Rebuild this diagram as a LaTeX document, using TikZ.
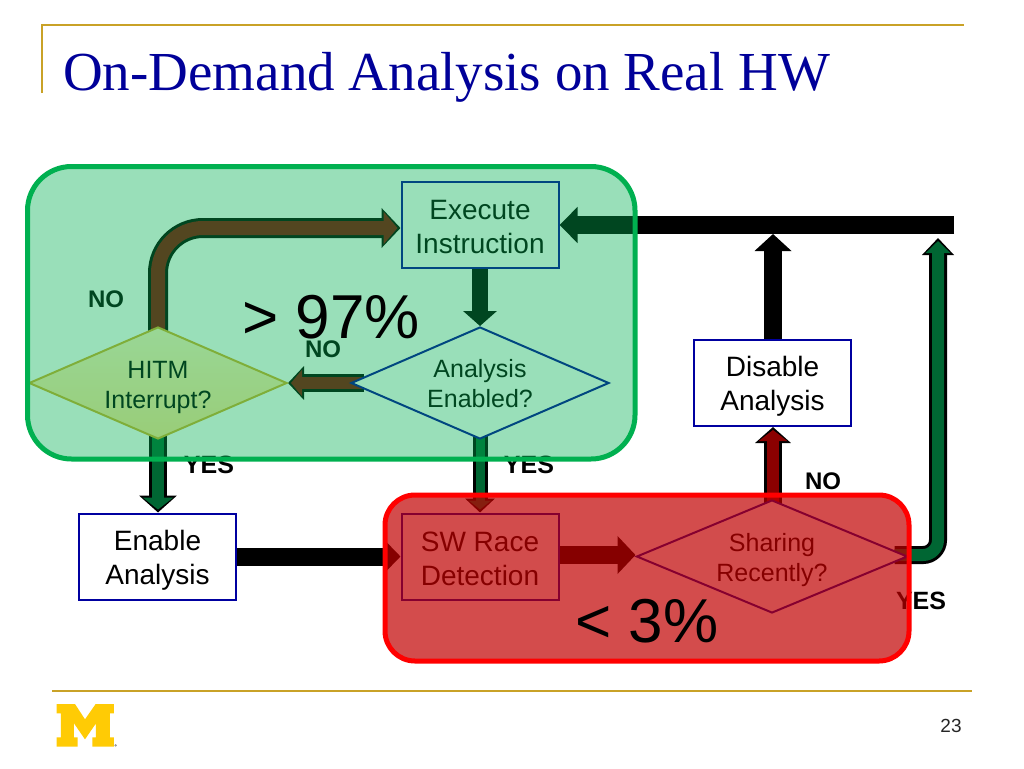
\documentclass[tikz,border=0pt]{standalone}
\usepackage{fontspec}
\setmainfont{Liberation Sans}
\newfontfamily\titlefont{Liberation Serif}
\usetikzlibrary{arrows.meta,shapes.geometric}
\pgfdeclarelayer{flows}
\pgfsetlayers{flows,main}
\definecolor{gold}{HTML}{C9A227}
\definecolor{navyb}{HTML}{0000A0}
\definecolor{darkred}{HTML}{8B0000}
\definecolor{flowgreen}{HTML}{006633}
\definecolor{ovgreen}{HTML}{00B050}
\definecolor{ovred}{HTML}{C00000}
\definecolor{mblue}{HTML}{000099}
\definecolor{myellow}{HTML}{FFCB05}
\definecolor{hitmtop}{RGB}{255,241,197}
\definecolor{hitmbot}{RGB}{255,225,147}
\definecolor{hitmline}{RGB}{212,173,43}
\def\blackname{black}
\newcommand{\flowarrow}[5]{%
  \draw[black,line width=#2pt,-{Triangle[length=#3pt,width=#4pt]}] #5;
  \def\thisname{#1}%
  \ifx\thisname\blackname\else
  \pgfmathsetmacro{\innerw}{#2-6}\pgfmathsetmacro{\innerl}{#3-5}\pgfmathsetmacro{\innerh}{#4-7}%
  \draw[#1,line width=\innerw pt,shorten >=3pt,-{Triangle[length=\innerl pt,width=\innerh pt]}] #5;
  \fi}
\newcommand{\twolines}[3]{\raisebox{-#1pt}[\height][\depth]{\begin{tabular}{@{}c@{}}#2\\#3\end{tabular}}}
\tikzset{
  boxnode/.style={draw=navyb,line width=2pt,fill=white,minimum width=157pt,minimum height=86pt,inner sep=0pt,font=\fontsize{28}{34}\selectfont},
  decnode/.style={diamond,draw=navyb,line width=2pt,fill=white,shape aspect=2.3,minimum width=258pt,minimum height=112pt,inner sep=0pt,font=\fontsize{25}{30}\selectfont},
  lab/.style={inner sep=0pt,font=\fontsize{24}{24}\bfseries\selectfont},
  yeslab/.style={inner sep=0pt,font=\fontsize{25}{25}\bfseries\selectfont},
  bigpct/.style={inner sep=0pt,font=\fontsize{62}{62}\selectfont},
  rule/.style={gold,line width=2pt}
}
\begin{document}
\begin{tikzpicture}[x=1pt,y=-1pt]
\useasboundingbox (0,0) rectangle (1024,768);
% slide furniture
\draw[rule] (42,93) -- (42,25) -- (964,25);
\draw[rule] (52,691) -- (972,691);
\node[anchor=base west,inner sep=0pt,text=mblue,font=\titlefont\fontsize{55}{55}\selectfont] (title) at (63,90) {On-Demand Analysis on Real HW};
\node[inner sep=0pt,font=\fontsize{19}{19}\selectfont,text=black!85] (pageno) at (951,726) {23};
\begin{scope}[shift={(30,680)},x=.3333pt,y=-.3333pt]
\fill[myellow] (80,72) -- (135,72) -- (165,118) -- (197,72) -- (252,72) -- (252,100) -- (240,100) -- (240,172) -- (252,172) -- (252,200) -- (187,200) -- (187,172) -- (198,172) -- (198,130) -- (165,178) -- (132,130) -- (132,172) -- (143,172) -- (143,200) -- (80,200) -- (80,172) -- (93,172) -- (93,100) -- (80,100) -- cycle;
\fill[black!40] (257,196) circle (4);
\end{scope}
% nodes
\node[boxnode] (exec) at (480,225) {\twolines{5}{Execute}{Instruction}};
\node[boxnode] (enable) at (157.5,556.5) {\twolines{4}{Enable}{Analysis}};
\node[boxnode] (sw) at (480,556.5) {\twolines{5}{SW Race}{Detection}};
\node[boxnode] (disable) at (772.5,383) {\twolines{4}{Disable}{Analysis}};
\node[decnode,draw=hitmline,top color=hitmtop,bottom color=hitmbot] (hitm) at (158,383) {\twolines{4}{HITM}{Interrupt?}};
\node[decnode] (analysis) at (480,383) {\twolines{3.5}{Analysis}{Enabled?}};
\node[decnode,minimum width=271pt,minimum height=113pt] (sharing) at (772,556.5) {\twolines{4}{Sharing}{Recently?}};
% labels
\node[lab] (l1) at (106,299) {NO};
\node[lab] (l2) at (323,349) {NO};
\node[yeslab] (l3) at (209,465) {YES};
\node[yeslab] (l4) at (529,465) {YES};
\node[lab] (l5) at (823,481) {NO};
\node[yeslab] (l6) at (921,601) {YES};
% free ends
\coordinate (barend) at (954,225);
\coordinate (barA) at (773,234);
\coordinate (barB) at (938,238);
% connectors, beneath the nodes
\begin{pgfonlayer}{flows}
\flowarrow{darkred}{20}{19}{39}{[rounded corners=45pt] ([yshift=-8pt]hitm.north) |- ([yshift=-3pt]exec.west)}
\flowarrow{darkred}{18}{16}{33}{([xshift=14pt]analysis.west) -- (hitm.east)}
\flowarrow{black}{16}{15}{33}{(exec.south) -- (analysis.north)}
\flowarrow{black}{18}{18}{35}{(barend) -- (exec.east)}
\flowarrow{black}{18}{17}{36}{(barA |- disable.north) -- (barA)}
\flowarrow{flowgreen}{18}{17}{31}{[rounded corners=15pt] ([xshift=-14pt,yshift=1.5pt]sharing.east) -| (barB)}
\flowarrow{darkred}{18}{16}{35}{([yshift=-8pt]barA |- sharing.north) -- (barA |- disable.south)}
\flowarrow{flowgreen}{18}{17}{37}{([yshift=8pt]hitm.south) -- (hitm.south |- enable.north)}
\flowarrow{flowgreen}{15}{14}{29}{([yshift=8pt]analysis.south) -- (analysis.south |- sw.north)}
\flowarrow{black}{18}{16}{32}{(enable.east) -- (sw.west)}
\flowarrow{black}{18}{18}{37}{([yshift=1.5pt]sw.east) -- ([yshift=1.5pt]sw.east -| sharing.west)}
\end{pgfonlayer}
% translucent regions
\draw[ovgreen,line width=5pt,fill=ovgreen,fill opacity=.4,rounded corners=44pt] (27.5,166.5) rectangle (635,459);
\draw[red,line width=5pt,fill=ovred,fill opacity=.7,rounded corners=30pt] (385,495) rectangle (909,661);
\node[bigpct] (pctA) at (331,317) {> 97\%};
\node[bigpct] (pctB) at (647,621) {< 3\%};
\end{tikzpicture}
\end{document}
